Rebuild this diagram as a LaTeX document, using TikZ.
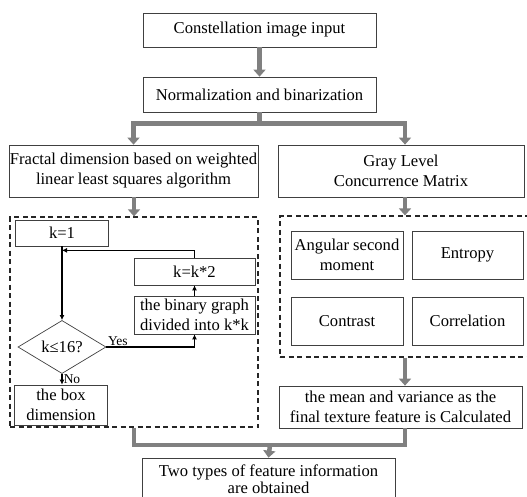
\documentclass[tikz,border=0pt]{standalone}
\usepackage{fontspec}
\setmainfont{Liberation Serif}
\usetikzlibrary{positioning}
\usetikzlibrary{calc}
\usetikzlibrary{shapes.geometric, arrows.meta}

\begin{document}
\begin{tikzpicture}[x=1pt, y=-1pt,
                font=\fontsize{16.6}{20}\selectfont,
                plainsquarednode/.style={rectangle, draw=black!75, line width=0.7pt, fill=white, align=center, inner sep=0pt},
                dashedsquarednode/.style={rectangle, draw=black!85, line width=1.2pt, dash pattern=on 5pt off 3.5pt},
                decisionnode/.style={diamond, draw=black!75, line width=0.7pt, fill=white, inner sep=0pt, minimum width=88pt, minimum height=34pt},
                grayline/.style={line width=4.5pt, draw=black!50},
                grayarrow/.style={grayline, -{Triangle[width=12pt,length=7pt]}},
                blackarrow/.style={line width=1.5pt, -{Latex[length=5pt,width=5pt]}},
                smalllabel/.style={font=\fontsize{13.5}{15}\selectfont, inner sep=1pt},
                ]

                \path[use as bounding box] (0,0) rectangle (527,497);
                \clip (0,0) rectangle (527,497);

                % main column
                \node[plainsquarednode, minimum width=233pt, minimum height=34pt] (input) at (259.5,30) {Constellation image input};
                \node[plainsquarednode, minimum width=233pt, minimum height=35pt] (norm) at (259.5,94.5) {Normalization and binarization};
                \node[plainsquarednode, minimum width=249pt, minimum height=52pt] (fractal) at (133.5,171) {Fractal dimension based on weighted\\linear least squares algorithm};
                \node[plainsquarednode, minimum width=246pt, minimum height=52pt] (glcm) at (401,171) {Gray Level\\Concurrence Matrix};

                \node[dashedsquarednode, minimum width=248pt, minimum height=210pt] (leftdash) at (134,322) {};
                \node[dashedsquarednode, minimum width=250pt, minimum height=141pt] (rightdash) at (405,286.5) {};

                \node[plainsquarednode, minimum width=243pt, minimum height=42pt] (mean) at (400.5,407) {the mean and variance as the\\final texture feature is Calculated};
                \node[plainsquarednode, minimum width=253pt, minimum height=42pt, font=\fontsize{16.6}{17}\selectfont] (final) at (268.5,479) {Two types of feature information\\are obtained};

                % box dimension loop
                \node[plainsquarednode, minimum width=93pt, minimum height=26pt] (k1) at (62,233) {k=1};
                \node[plainsquarednode, minimum width=121pt, minimum height=27pt] (kk2) at (194.5,271.5) {k=k*2};
                \node[plainsquarednode, minimum width=121pt, minimum height=38pt] (binary) at (194.5,315) {the binary graph\\divided into k*k};
                \node[decisionnode] (dec) at (62,347) {k≤16?};
                \node[plainsquarednode, minimum width=93pt, minimum height=40pt] (boxdim) at (61,405) {the box\\dimension};
                \coordinate (loopin) at ($(k1.south)+(0,4)$);

                % GLCM features
                \node[plainsquarednode, minimum width=112pt, minimum height=48pt] (asm) at (347,255) {Angular second\\moment};
                \node[plainsquarednode, minimum width=111pt, minimum height=48pt] (entropy) at (467.5,255) {Entropy};
                \node[plainsquarednode, minimum width=112pt, minimum height=48pt] (contrast) at (347,321) {Contrast};
                \node[plainsquarednode, minimum width=111pt, minimum height=48pt] (correlation) at (467.5,321) {Correlation};

                % gray connectors
                \draw[grayarrow] (input.south) -- (norm.north);
                \draw[grayline] (norm.south) -- ++(0,11) coordinate (split);
                \draw[grayarrow] (split) -| (fractal.north);
                \draw[grayarrow] (split) -| (rightdash.north |- glcm.north);
                \draw[grayarrow] (fractal.south -| leftdash.north) -- (leftdash.north);
                \draw[grayarrow] (rightdash.north |- glcm.south) -- (rightdash.north);
                \draw[grayarrow] (rightdash.south) -- (rightdash.south |- mean.north);
                \coordinate (join) at (270,445);
                \draw[grayline] (leftdash.south) |- (join) -| (mean.south -| rightdash.south);
                \draw[grayarrow] (join) -- (final.north);

                % black connectors
                \draw[blackarrow] (k1.south) -- (dec.north);
                \draw[blackarrow] (kk2.north) |- (loopin);
                \draw[blackarrow] (binary.north) -- (kk2.south);
                \draw[blackarrow] (dec.east) -| (binary.south) node[pos=0, above right, smalllabel] {Yes};
                \draw[blackarrow] (dec.south) -- (dec.south |- boxdim.north) node[midway, right, smalllabel] {No};
            \end{tikzpicture}
\end{document}
